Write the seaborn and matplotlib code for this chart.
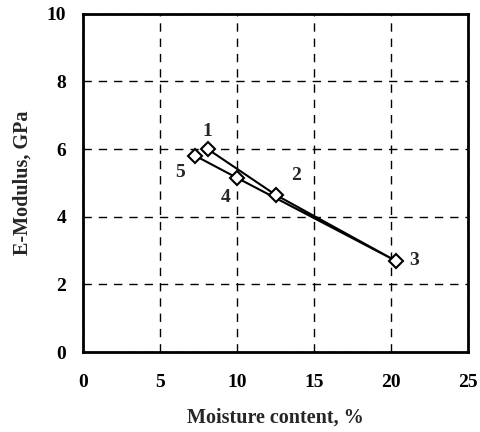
import matplotlib
matplotlib.use("Agg")
import matplotlib.pyplot as plt
import seaborn as sns
import pandas as pd

labels = ["1", "2", "3", "4", "5"]
moisture = [8.1, 12.5, 20.3, 10.0, 7.3]
modulus = [6.0, 4.65, 2.7, 5.15, 5.8]
x_ticks = [0, 5, 10, 15, 20, 25]
y_ticks = [0, 2, 4, 6, 8, 10]

df = pd.DataFrame({"x": moisture, "y": modulus, "label": labels})

sns.set_style("white")
plt.rcParams["font.family"] = ["Liberation Serif", "DejaVu Serif"]

fig = plt.figure(figsize=(4.8, 4.32), dpi=100)
ax = fig.add_axes([0.173, 0.185, 0.802, 0.783])

sns.lineplot(data=df, x="x", y="y", sort=False, ax=ax, color="black", lw=1.5,
             marker="D", markersize=7, markerfacecolor="white",
             markeredgecolor="black", markeredgewidth=1.5)

offsets = {"1": (0, 13), "2": (15, 14), "3": (13, 0), "4": (-8, -14), "5": (-11, -12)}
for _, r in df.iterrows():
    dx, dy = offsets[r["label"]]
    ax.annotate(r["label"], (r["x"], r["y"]), xytext=(dx, dy), textcoords="offset points",
                ha="center", va="center", fontsize=14, fontweight="bold")

ax.set_xlim(0, 25)
ax.set_ylim(0, 10)
ax.set_xticks(x_ticks)
ax.set_yticks(y_ticks)
ax.grid(True, color="black", linestyle=(0, (6, 5)), linewidth=1.0)
for s in ax.spines.values():
    s.set_color("black")
    s.set_linewidth(2)
ax.tick_params(direction="in", length=4, width=1.5, colors="black", labelsize=14, pad=12)
ax.tick_params(axis="x", pad=16)
for t in ax.get_xticklabels() + ax.get_yticklabels():
    t.set_fontweight("bold")
ax.set_xlabel("Moisture content, %", fontsize=14.5, fontweight="bold", labelpad=12)
ax.set_ylabel("E-Modulus, GPa", fontsize=14.5, fontweight="bold", labelpad=10)

fig.savefig("out.png", dpi=100)
